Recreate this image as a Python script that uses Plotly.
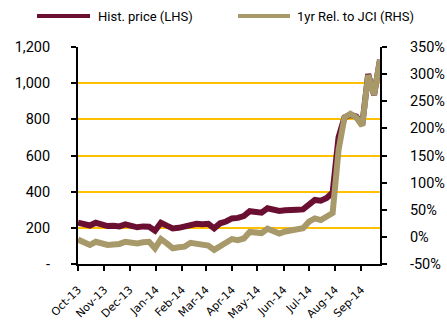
import plotly.graph_objects as go

dates = ["2013-10-01", "2013-10-08", "2013-10-15", "2013-10-22", "2013-10-29",
         "2013-11-05", "2013-11-12", "2013-11-19", "2013-11-26", "2013-12-03",
         "2013-12-10", "2013-12-17", "2013-12-24", "2013-12-31", "2014-01-07",
         "2014-01-14", "2014-01-21", "2014-01-28", "2014-02-04", "2014-02-11",
         "2014-02-18", "2014-02-25", "2014-03-04", "2014-03-11", "2014-03-18",
         "2014-03-25", "2014-04-01", "2014-04-08", "2014-04-15", "2014-04-22",
         "2014-04-29", "2014-05-06", "2014-05-13", "2014-05-20", "2014-05-27",
         "2014-06-03", "2014-06-10", "2014-06-17", "2014-06-24", "2014-07-01",
         "2014-07-08", "2014-07-15", "2014-07-22", "2014-07-29", "2014-08-05",
         "2014-08-12", "2014-08-19", "2014-08-26", "2014-09-02", "2014-09-09",
         "2014-09-16", "2014-09-23"]

hist_price = [228, 222, 213, 228, 215, 210, 212, 208, 219, 210,
              203, 208, 206, 184, 228, 212, 197, 200, 206, 220,
              222, 220, 222, 197, 225, 235, 252, 255, 265, 292,
              290, 284, 308, 300, 293, 297, 302, 300, 302, 330,
              354, 350, 365, 395, 700, 810, 825, 815, 770, 1050,
              935, 1130]

rel_jci = [-5, -10, -15, -9, -13, -15, -14, -13, -9, -11,
           -12, -10, -9, -21, -4, -12, -21, -19, -18, -11,
           -12, -15, -16, -24, -17, -13, -4, -6, -3, 9,
           8, 7, 15, 11, 6, 10, 12, 14, 16, 28,
           34, 31, 38, 44, 160, 220, 227, 220, 205, 298,
           262, 326]

series_names = ["Hist. price (LHS)", "1yr Rel. to JCI (RHS)"]

month_ticks = ["2013-10-01", "2013-11-01", "2013-12-01", "2014-01-01", "2014-02-01",
               "2014-03-01", "2014-04-01", "2014-05-01", "2014-06-01", "2014-07-01",
               "2014-08-01", "2014-09-01"]
month_labels = ["Oct-13", "Nov-13", "Dec-13", "Jan-14", "Feb-14", "Mar-14",
                "Apr-14", "May-14", "Jun-14", "Jul-14", "Aug-14", "Sep-14"]

left_vals = [0, 200, 400, 600, 800, 1000, 1200]
left_text = ["-", "200", "400", "600", "800", "1,000", "1,200"]
right_vals = [-50, 0, 50, 100, 150, 200, 250, 300, 350]
right_text = ["-50%", "0%", "50%", "100%", "150%", "200%", "250%", "300%", "350%"]

PRICE_COL = "#6B0F32"
REL_COL = "#A8996A"
colors = [PRICE_COL, REL_COL]
tick_font = dict(family="Roboto", size=14.5, color="black")

W, H = 447, 336
ML, MR, MT, MB = 78, 67, 47, 72
PW, PH = W - ML - MR, H - MT - MB


def px_x(px):
    return (px - ML) / PW


def px_y(py):
    return (H - MB - py) / PH


fig = go.Figure()
fig.add_trace(go.Scatter(x=dates, y=hist_price, mode="lines", name=series_names[0],
                         line=dict(color=PRICE_COL, width=6), yaxis="y", showlegend=False))
fig.add_trace(go.Scatter(x=dates, y=rel_jci, mode="lines", name=series_names[1],
                         line=dict(color=REL_COL, width=6), yaxis="y2", showlegend=False))

# manual legend (line swatches + labels)
legend_line_px = [(37, 90), (238, 290)]
legend_text_px = [96, 295]
legend_y_px = 16
shapes = []
annotations = []
for i in range(2):
    x0, x1 = legend_line_px[i]
    shapes.append(dict(type="line", xref="paper", yref="paper",
                       x0=px_x(x0), x1=px_x(x1), y0=px_y(legend_y_px), y1=px_y(legend_y_px),
                       line=dict(color=colors[i], width=4)))
    annotations.append(dict(xref="paper", yref="paper", x=px_x(legend_text_px[i]),
                            y=px_y(legend_y_px), xanchor="left", yanchor="middle",
                            text=series_names[i], showarrow=False,
                            font=dict(family="Roboto", size=13, color="black")))

fig.update_layout(
    width=W, height=H,
    margin=dict(l=ML, r=MR, t=MT, b=MB, autoexpand=False),
    paper_bgcolor="white", plot_bgcolor="white",
    showlegend=False,
    shapes=shapes, annotations=annotations,
    xaxis=dict(type="date", range=["2013-10-01", "2014-09-23"],
               tickvals=month_ticks, ticktext=month_labels, tickangle=-45,
               tickfont=dict(family="DejaVu Sans", size=11, color="black"),
               ticklabelstandoff=8,
               showgrid=False, zeroline=False, showline=True, linecolor="black",
               linewidth=2, ticks="outside", ticklen=5, tickcolor="black", tickwidth=1.5),
    yaxis=dict(range=[0, 1200], tickvals=left_vals, ticktext=left_text,
               tickfont=tick_font, showgrid=True, gridcolor="#FFC000", gridwidth=1.5,
               zeroline=False, showline=True, linecolor="black", linewidth=2,
               ticks="outside", ticklen=5, tickcolor="black", tickwidth=1.5,
               ticklabelstandoff=18),
    yaxis2=dict(range=[-50, 350], tickvals=right_vals, ticktext=right_text,
                tickfont=tick_font, overlaying="y", side="right", showgrid=False,
                zeroline=False, showline=True, linecolor="black", linewidth=2,
                ticks="outside", ticklen=5, tickcolor="black", tickwidth=1.5,
                ticklabelstandoff=20),
)

fig.write_html("out.html")
